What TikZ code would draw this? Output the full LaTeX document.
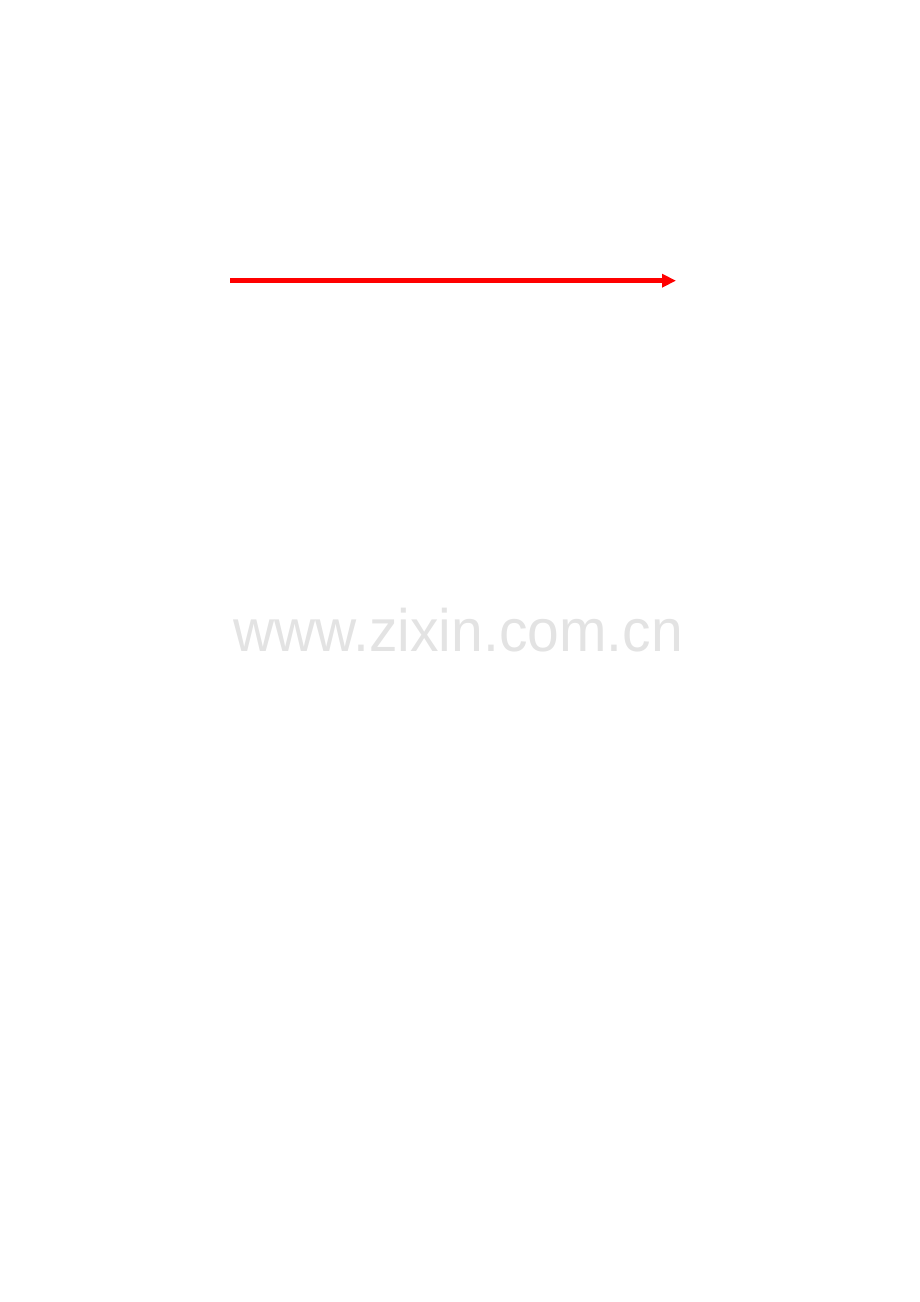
\documentclass[tikz,border=0pt]{standalone}
\usepackage{fontspec}
\setmainfont{Liberation Sans}
\usetikzlibrary{arrows.meta}
\definecolor{arrowred}{HTML}{FF0000}
\definecolor{wmgray}{HTML}{E3E3E3}
\tikzset{
  redarrow/.style={draw=arrowred, line width=4.5pt, -{Triangle[length=14pt,width=13pt]}},
  watermark/.style={inner sep=0pt, outer sep=0pt, text=wmgray, font=\fontsize{57}{68}\selectfont, yscale=1.05, transform shape}
}
\begin{document}
\begin{tikzpicture}[x=1pt,y=1pt]
\useasboundingbox (0,0) rectangle (920,1302);
\coordinate (start) at (230,1021.3);
\coordinate (end) at (676,1021.3);
\draw[redarrow] (start) -- (end);
\node[watermark, anchor=base west] (wm) at (233,650.5) {www.zixin.com.cn};
\end{tikzpicture}
\end{document}
